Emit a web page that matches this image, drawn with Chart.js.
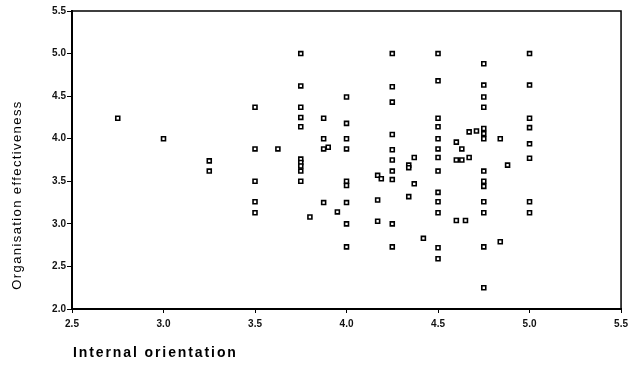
<!DOCTYPE html>
<html>
<head>
<meta charset="utf-8">
<title>Internal orientation vs organisation effectiveness</title>
<script src="https://cdn.jsdelivr.net/npm/chart.js"></script>
<style>
  html, body { margin: 0; padding: 0; background: #fff; }
  #wrap { width: 633px; height: 368px; position: relative; }
</style>
</head>
<body>
<div id="wrap"><canvas id="scatter"></canvas></div>
<script>
// values, one array per x column
const orientX = [
  2.75,
  3.0,
  3.25, 3.25,
  3.5, 3.5, 3.5, 3.5, 3.5,
  3.625,
  3.75, 3.75, 3.75, 3.75, 3.75, 3.75, 3.75, 3.75, 3.75, 3.75,
  3.8,
  3.875, 3.875, 3.875, 3.9, 3.875,
  3.95,
  4.0, 4.0, 4.0, 4.0, 4.0, 4.0, 4.0, 4.0, 4.0,
  4.17, 4.17, 4.17, 4.19,
  4.25, 4.25, 4.25, 4.25, 4.25, 4.25, 4.25, 4.25, 4.25, 4.25,
  4.34, 4.34, 4.34, 4.37, 4.37,
  4.42,
  4.5, 4.5, 4.5, 4.5, 4.5, 4.5, 4.5, 4.5, 4.5, 4.5, 4.5, 4.5, 4.5,
  4.6, 4.6, 4.6, 4.63, 4.63, 4.65, 4.67, 4.67, 4.71,
  4.75, 4.75, 4.75, 4.75, 4.75, 4.75, 4.75, 4.75, 4.75, 4.75, 4.75, 4.75, 4.75, 4.75,
  4.84, 4.84, 4.88,
  5.0, 5.0, 5.0, 5.0, 5.0, 5.0, 5.0, 5.0
];
const effectY = [
  4.24,
  4.0,
  3.74, 3.62,
  4.37, 3.88, 3.5, 3.26, 3.13,
  3.88,
  5.0, 4.62, 4.37, 4.25, 4.14, 3.76, 3.72, 3.68, 3.62, 3.5,
  3.08,
  4.24, 4.0, 3.88, 3.9, 3.25,
  3.14,
  4.49, 4.18, 4.0, 3.88, 3.5, 3.45, 3.25, 3.0, 2.73,
  3.57, 3.28, 3.03, 3.53,
  5.0, 4.61, 4.43, 4.05, 3.87, 3.75, 3.62, 3.52, 3.0, 2.73,
  3.69, 3.66, 3.32, 3.78, 3.47,
  2.83,
  5.0, 4.68, 4.24, 4.14, 4.0, 3.88, 3.78, 3.62, 3.37, 3.26, 3.13, 2.72, 2.59,
  3.96, 3.75, 3.04, 3.88, 3.75, 3.04, 3.78, 4.08, 4.09,
  4.88, 4.63, 4.49, 4.37, 4.12, 4.06, 4.0, 3.62, 3.5, 3.44, 3.26, 3.13, 2.73, 2.25,
  4.0, 2.79, 3.69,
  5.0, 4.63, 4.24, 4.13, 3.94, 3.77, 3.26, 3.13
];

const xTicks = [2.5, 3.0, 3.5, 4.0, 4.5, 5.0, 5.5];
const yTicks = [2.0, 2.5, 3.0, 3.5, 4.0, 4.5, 5.0, 5.5];

const xTitle = 'Internal orientation';
const yTitle = 'Organisation effectiveness';

const points = orientX.map((x, i) => ({ x: x, y: effectY[i] }));

const tickFont = { family: '"Liberation Sans", Arial, sans-serif', size: 10, weight: 'bold' };

// spaced-out lettering like the scan
const spacing = {
  id: 'spacing',
  beforeInit(chart) { chart.ctx.letterSpacing = '3px'; }
};

// box frame + axis titles
const frame = {
  id: 'frame',
  afterDraw(chart) {
    const { ctx, chartArea: a } = chart;
    ctx.save();
    ctx.strokeStyle = '#000';
    ctx.lineWidth = 1.5;
    ctx.strokeRect(a.left, a.top, a.right - a.left, a.bottom - a.top);

    ctx.fillStyle = '#000';
    ctx.letterSpacing = '1.9px';
    ctx.font = 'bold 14px "Liberation Sans", Arial, sans-serif';
    ctx.textAlign = 'left';
    ctx.textBaseline = 'middle';
    ctx.fillText(xTitle, 73, 353);

    ctx.letterSpacing = '1.4px';
    ctx.font = '13px "Liberation Sans", Arial, sans-serif';
    ctx.translate(17, 195);
    ctx.rotate(-Math.PI / 2);
    ctx.textAlign = 'center';
    ctx.fillText(yTitle, 0, 0);
    ctx.restore();
  }
};

new Chart(document.getElementById('scatter'), {
  type: 'scatter',
  data: {
    datasets: [{
      data: points,
      pointStyle: 'rect',
      pointRadius: 2.8,
      borderColor: '#000',
      borderWidth: 1.6,
      backgroundColor: '#fff'
    }]
  },
  options: {
    responsive: true,
    maintainAspectRatio: false,
    animation: false,
    events: [],
    layout: { padding: { top: 11, right: 9, left: 0, bottom: 0 } },
    plugins: { legend: { display: false }, tooltip: { enabled: false } },
    scales: {
      x: {
        type: 'linear',
        min: 2.5, max: 5.5,
        afterFit: s => { s.height = 59; },
        afterBuildTicks: s => { s.ticks = xTicks.map(v => ({ value: v })); },
        border: { color: '#000', width: 2 },
        grid: { drawOnChartArea: false, tickLength: 4, color: '#000', tickColor: '#000' },
        ticks: { color: '#111', font: tickFont, padding: 5, maxRotation: 0, callback: v => v.toFixed(1) }
      },
      y: {
        type: 'linear',
        min: 2.0, max: 5.5,
        afterFit: s => { s.width = 72; },
        afterBuildTicks: s => { s.ticks = yTicks.map(v => ({ value: v })); },
        border: { color: '#000', width: 2 },
        grid: { drawOnChartArea: false, tickLength: 5, color: '#000', tickColor: '#000' },
        ticks: { color: '#111', font: tickFont, padding: 1, callback: v => v.toFixed(1) }
      }
    }
  },
  plugins: [spacing, frame]
});
</script>
</body>
</html>
